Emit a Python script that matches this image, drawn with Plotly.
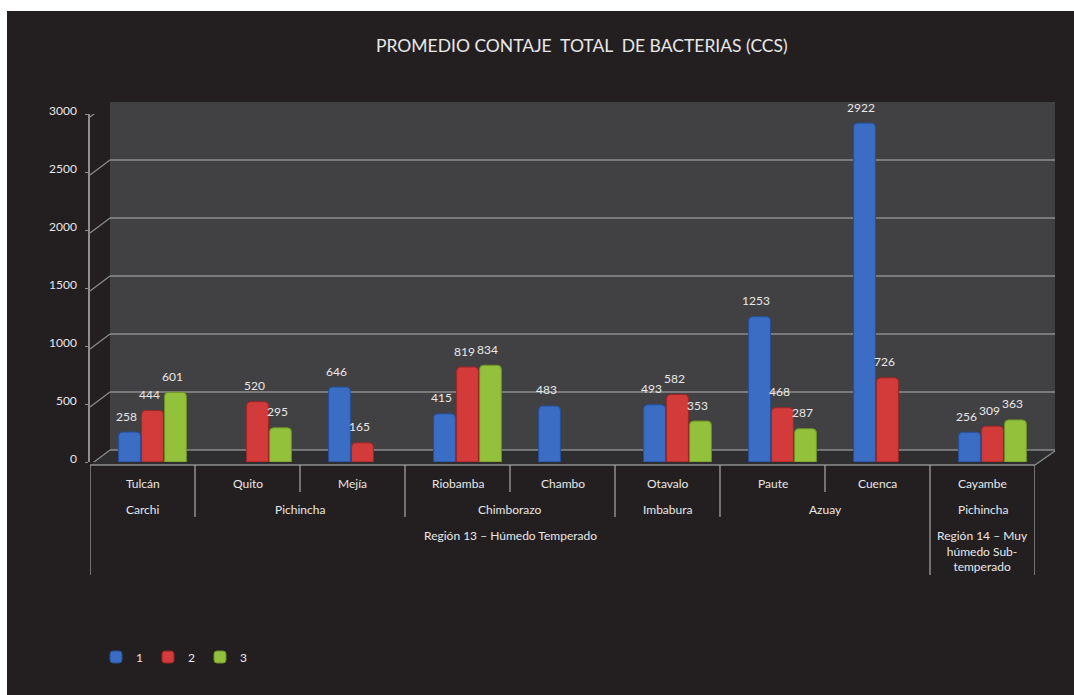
import plotly.graph_objects as go

# ---------------- data ----------------
cities = ["Tulcán", "Quito", "Mejía", "Riobamba", "Chambo", "Otavalo", "Paute", "Cuenca", "Cayambe"]
provinces = ["Carchi", "Pichincha", "Pichincha", "Chimborazo", "Chimborazo", "Imbabura", "Azuay", "Azuay", "Pichincha"]
regions = ["Región 13 – Húmedo Temperado"] * 8 + ["Región 14 – Muy<br>húmedo Sub-<br>temperado"]
region_ids = [13] * 8 + [14]
series_names = ["1", "2", "3"]
serie_1 = [258, None, 646, 415, 483, 493, 1253, 2922, 256]
serie_2 = [444, 520, 165, 819, None, 582, 468, 726, 309]
serie_3 = [601, 295, None, 834, None, 353, 287, None, 363]
y_ticks = [0, 500, 1000, 1500, 2000, 2500, 3000]
title = "PROMEDIO CONTAJE  TOTAL  DE BACTERIAS (CCS)"

# ---------------- styling ----------------
W, H = 1074, 695
def px(x):
    return x / W
def py(y):
    return 1 - y / H

colors = ["#3A6DC3", "#D33B3B", "#93C13C"]
line_colors = ["#24509A", "#9E2525", "#6C9126"]
bg = "#231F20"
wall = "#414143"
floor = "#2E2E30"
grid = "#8E8E8E"
txt = "#E8E8E8"
FONT = "Lato, Open Sans, sans-serif"

fig = go.Figure()
for s, (name, vals) in enumerate(zip(series_names, [serie_1, serie_2, serie_3])):
    fig.add_trace(go.Bar(
        x=cities, y=vals, name=name, xaxis="x2", yaxis="y",
        marker=dict(color=colors[s], line=dict(color=line_colors[s], width=1), cornerradius=4),
        hoverinfo="x+y+name",
    ))

shapes = []
# dark background (white border at top/left like the reference)
shapes.append(dict(type="rect", xref="paper", yref="paper", x0=px(7), x1=1, y0=0, y1=py(11),
                   fillcolor=bg, line=dict(width=0), layer="below"))
# back wall
shapes.append(dict(type="rect", xref="paper", yref="paper", x0=px(110), x1=px(1055), y0=py(450), y1=py(102),
                   fillcolor=wall, line=dict(width=0), layer="below"))
# floor
shapes.append(dict(type="path", xref="paper", yref="paper",
                   path=f"M {px(90)},{py(465)} L {px(1035)},{py(465)} L {px(1055)},{py(451)} L {px(110)},{py(451)} Z",
                   fillcolor=floor, line=dict(width=0), layer="below"))
# wall gridlines and diagonal side ticks
for v in y_ticks:
    shapes.append(dict(type="line", xref="paper", yref="y", ysizemode="pixel", yanchor=v,
                       x0=px(110), x1=px(1055), y0=12, y1=12, line=dict(color=grid, width=1.5), layer="below"))
    shapes.append(dict(type="line", xref="paper", yref="y", ysizemode="pixel", yanchor=v,
                       x0=px(90), x1=px(110), y0=-3, y1=12, line=dict(color=grid, width=1.2), layer="below"))
# floor front edge and right edge
shapes.append(dict(type="line", xref="paper", yref="paper", x0=px(90), x1=px(1035), y0=py(465), y1=py(465),
                   line=dict(color=grid, width=1.5)))
shapes.append(dict(type="line", xref="paper", yref="paper", x0=px(1035), x1=px(1055), y0=py(465), y1=py(451),
                   line=dict(color=grid, width=1.2)))

# category separators (length by hierarchy level)
n = len(cities)
for b in range(n + 1):
    if b == 0 or b == n or region_ids[b - 1] != region_ids[b]:
        yb = 575
    elif provinces[b - 1] != provinces[b]:
        yb = 517
    else:
        yb = 492
    shapes.append(dict(type="line", xref="x", yref="paper", x0=b - 0.5, x1=b - 0.5,
                       y0=py(465), y1=py(yb), line=dict(color="#A8A8A8", width=1.2)))

annotations = []
# city labels
for i, c in enumerate(cities):
    annotations.append(dict(x=i, y=py(483), xref="x", yref="paper", text=c, showarrow=False,
                            yanchor="middle", font=dict(size=12, color=txt, family=FONT)))
# province / region labels (grouped runs)
def runs(labels):
    out = []
    start = 0
    for i in range(1, len(labels) + 1):
        if i == len(labels) or labels[i] != labels[start] or region_ids[i] != region_ids[start]:
            out.append((start, i - 1, labels[start]))
            start = i
    return out
for a, b, lab in runs(provinces):
    annotations.append(dict(x=(a + b) / 2, y=py(509), xref="x", yref="paper", text=lab, showarrow=False,
                            yanchor="middle", font=dict(size=12, color=txt, family=FONT)))
for a, b, lab in runs(regions):
    annotations.append(dict(x=(a + b) / 2, y=py(526), xref="x", yref="paper", text=lab, showarrow=False,
                            yanchor="top", font=dict(size=12, color=txt, family=FONT)))
# value labels
slot = 23
for s, vals in enumerate([serie_1, serie_2, serie_3]):
    for i, v in enumerate(vals):
        if v is None:
            continue
        annotations.append(dict(x=cities[i], y=v, xref="x2", yref="y", text=str(v), showarrow=False,
                                xshift=(s - 1) * slot - 3.5, yshift=16, yanchor="middle",
                                font=dict(size=12, color=txt, family=FONT)))
# title
annotations.append(dict(x=px(582), y=py(46), xref="paper", yref="paper", text=title, showarrow=False,
                        yanchor="middle", font=dict(size=17.5, color=txt, family=FONT)))

fig.update_layout(
    width=W, height=H,
    margin=dict(l=0, r=0, t=0, b=0, pad=0, autoexpand=False),
    paper_bgcolor="white",
    plot_bgcolor="rgba(0,0,0,0)",
    barmode="group", bargap=0.343, bargroupgap=0.05,
    font=dict(family=FONT, color=txt),
    xaxis=dict(domain=[px(90), px(1035)], type="category", categoryarray=cities, categoryorder="array",
               range=[-0.5, n - 0.5], anchor="y", showticklabels=False, showgrid=False,
               zeroline=False, showline=False, ticks=""),
    xaxis2=dict(domain=[px(100), px(1045)], type="category", categoryarray=cities, categoryorder="array",
                range=[-0.5, n - 0.5], anchor="y", visible=False),
    yaxis=dict(domain=[py(462), py(114)], range=[0, 3000], anchor="x", tickvals=y_ticks,
               showgrid=False, zeroline=False, showline=True, linecolor=grid, linewidth=1.5,
               ticks="outside", ticklen=3, tickcolor=grid, ticklabelshift=-3, ticklabelstandoff=6,
               tickfont=dict(size=12, color=txt, family=FONT)),
    shapes=shapes,
    annotations=annotations,
    showlegend=True,
    legend=dict(orientation="h", x=px(96), y=py(657), xanchor="left", yanchor="middle",
                bgcolor="rgba(0,0,0,0)", font=dict(size=12, color=txt, family=FONT),
                itemwidth=30, traceorder="normal"),
)

fig.write_html("out.html")
